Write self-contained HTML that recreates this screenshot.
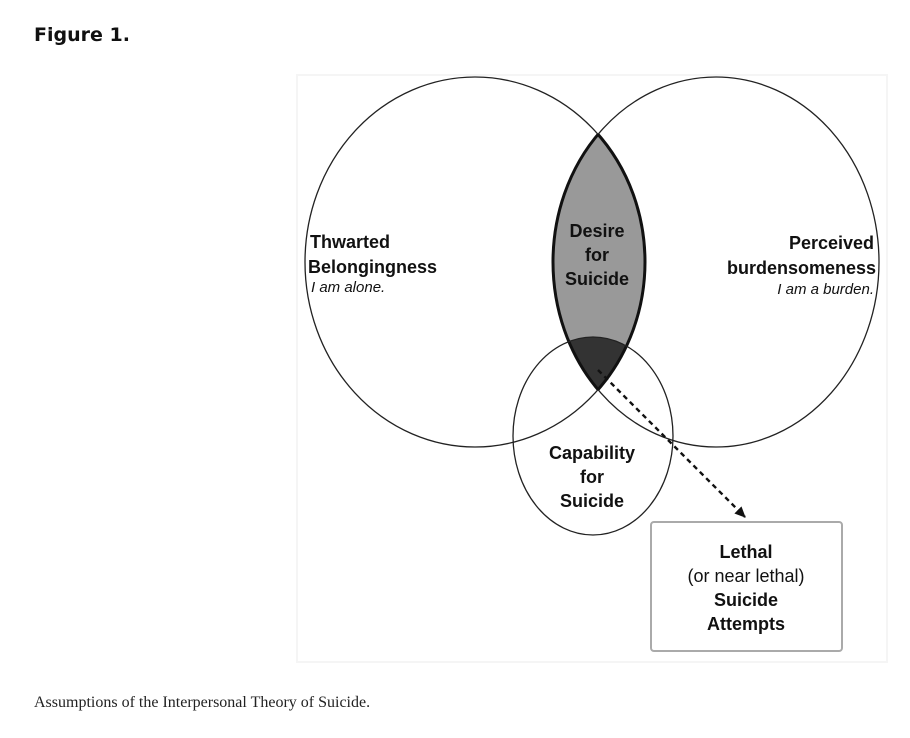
<!DOCTYPE html>
<html><head><meta charset="utf-8"><style>
html,body{margin:0;padding:0;background:#fff;}
body{width:910px;height:738px;position:relative;overflow:hidden;}
.fig{position:absolute;left:34px;top:24px;font:bold 19px "DejaVu Sans","Liberation Sans",sans-serif;color:#111;}
.cap{position:absolute;left:34px;top:694px;font:16px "Liberation Serif",serif;color:#222;}
svg{position:absolute;left:0;top:0;}
text{font-family:"Liberation Sans",sans-serif;fill:#111;}
.b{font-weight:bold;font-size:18px;}
.i{font-style:italic;font-size:15px;}
</style></head><body>
<div class="fig">Figure 1.</div>
<svg width="910" height="738" viewBox="0 0 910 738">
<defs>
<clipPath id="cl"><ellipse cx="475" cy="262" rx="170" ry="185"/></clipPath>
<clipPath id="cr"><ellipse cx="716" cy="262" rx="163" ry="185"/></clipPath>
<marker id="ah" markerUnits="userSpaceOnUse" markerWidth="12" markerHeight="12" refX="10" refY="6" orient="auto"><path d="M0,1 L11,6 L0,11 z" fill="#111"/></marker>
</defs>
<rect x="297" y="75" width="590" height="587" fill="none" stroke="#f5f5f5" stroke-width="2"/>
<ellipse cx="475" cy="262" rx="170" ry="185" fill="none" stroke="#222" stroke-width="1.3"/>
<ellipse cx="716" cy="262" rx="163" ry="185" fill="none" stroke="#222" stroke-width="1.3"/>
<g clip-path="url(#cl)"><ellipse cx="716" cy="262" rx="163" ry="185" fill="#999"/></g>
<g clip-path="url(#cl)"><g clip-path="url(#cr)"><ellipse cx="593" cy="436" rx="80" ry="99" fill="#333"/></g></g>
<g clip-path="url(#cl)"><ellipse cx="716" cy="262" rx="163" ry="185" fill="none" stroke="#111" stroke-width="3"/></g>
<g clip-path="url(#cr)"><ellipse cx="475" cy="262" rx="170" ry="185" fill="none" stroke="#111" stroke-width="3"/></g>
<ellipse cx="593" cy="436" rx="80" ry="99" fill="none" stroke="#222" stroke-width="1.3"/>
<line x1="598" y1="370" x2="745" y2="517" stroke="#111" stroke-width="2.4" stroke-dasharray="5,4" marker-end="url(#ah)"/>
<rect x="651" y="522" width="191" height="129" rx="3" fill="#fff" stroke="#aaa" stroke-width="2"/>
<text class="b" x="310" y="248">Thwarted</text>
<text class="b" x="308" y="273">Belongingness</text>
<text class="i" x="311" y="292">I am alone.</text>
<text class="b" x="874" y="249" text-anchor="end">Perceived</text>
<text class="b" x="876" y="274" text-anchor="end">burdensomeness</text>
<text class="i" x="874" y="294" text-anchor="end">I am a burden.</text>
<g text-anchor="middle">
<text class="b" x="597" y="237">Desire</text>
<text class="b" x="597" y="261">for</text>
<text class="b" x="597" y="285">Suicide</text>
<text class="b" x="592" y="459">Capability</text>
<text class="b" x="592" y="483">for</text>
<text class="b" x="592" y="507">Suicide</text>
<text class="b" x="746" y="558">Lethal</text>
<text x="746" y="582" style="font-size:18px">(or near lethal)</text>
<text class="b" x="746" y="606">Suicide</text>
<text class="b" x="746" y="630">Attempts</text>
</g>
</svg>
<div class="cap">Assumptions of the Interpersonal Theory of Suicide.</div>
</body></html>
